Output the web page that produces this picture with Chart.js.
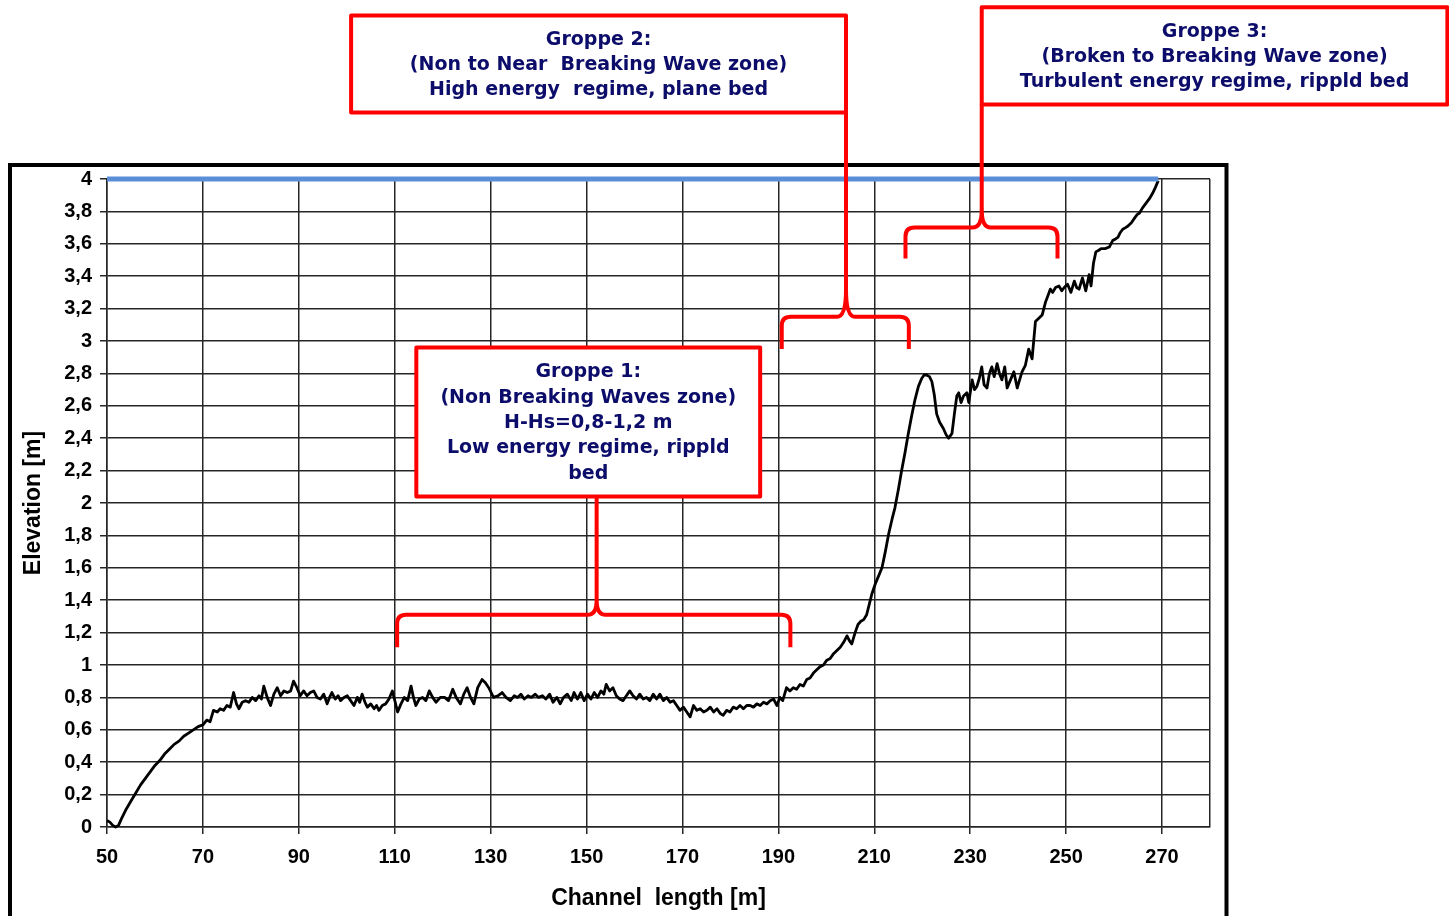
<!DOCTYPE html>
<html>
<head>
<meta charset="utf-8">
<title>Channel profile</title>
<script src="https://cdn.jsdelivr.net/npm/chart.js@4.4.1/dist/chart.umd.min.js"></script>
<style>
  html, body { margin: 0; padding: 0; background: #fff; }
  #wrap { width: 1449px; height: 916px; position: relative; }
</style>
</head>
<body>
<div id="wrap"><canvas id="profileChart"></canvas></div>
<script>
// bed profile along the channel: [channel length m, elevation m]
const rampSection = [
  [50, 0.04], [50.6, 0.03], [51.2, 0.01], [51.8, 0.0], [52.4, 0.01], [53, 0.05], [54, 0.11],
  [55, 0.16], [56, 0.21], [57, 0.26], [58, 0.30], [59, 0.34], [60, 0.38], [61, 0.41], [62, 0.45],
  [63, 0.48], [64, 0.51], [65, 0.53], [66, 0.56], [67, 0.58], [68, 0.60], [69, 0.62], [70, 0.63],
  [70.8, 0.66], [71.5, 0.65], [72.2, 0.72], [73, 0.71], [73.6, 0.73], [74.3, 0.72], [75, 0.75],
  [75.7, 0.74], [76.4, 0.83], [77, 0.76], [77.5, 0.73], [78.2, 0.77], [78.9, 0.78], [79.6, 0.77],
  [80.3, 0.80], [81, 0.78], [81.7, 0.81], [82.2, 0.79], [82.7, 0.87], [83.4, 0.80], [84.1, 0.75],
  [84.8, 0.82], [85.5, 0.86], [86.2, 0.81], [86.9, 0.84], [87.6, 0.83], [88.3, 0.84], [88.9, 0.90],
  [89.6, 0.86]
];
const plateauSection = [
  [90.3, 0.81], [91, 0.84], [91.7, 0.81], [92.4, 0.83], [93.1, 0.84], [93.8, 0.80], [94.5, 0.79],
  [95.2, 0.82], [95.9, 0.76], [96.4, 0.80], [96.9, 0.83], [97.6, 0.79], [98.2, 0.81], [98.7, 0.78],
  [99.4, 0.80], [100.1, 0.81], [100.8, 0.78], [101.5, 0.75], [102.2, 0.80], [102.7, 0.77], [103.2, 0.82],
  [103.8, 0.77], [104.3, 0.74], [105, 0.76], [105.7, 0.73], [106.2, 0.75], [106.7, 0.72], [107.4, 0.75],
  [108.1, 0.76], [108.8, 0.79], [109.5, 0.84], [110.1, 0.77], [110.6, 0.71], [111.3, 0.76], [112, 0.80],
  [112.7, 0.78], [113.4, 0.87], [113.9, 0.80], [114.4, 0.75], [115.1, 0.79], [115.8, 0.80], [116.5, 0.78],
  [117.2, 0.84], [117.9, 0.80], [118.6, 0.77], [119.5, 0.80], [120.4, 0.80], [121.2, 0.78], [122.1, 0.85],
  [122.8, 0.80], [123.7, 0.76], [124.4, 0.82], [125.1, 0.86], [125.8, 0.80], [126.5, 0.76], [127.3, 0.86],
  [128.2, 0.91], [128.9, 0.89], [129.6, 0.86], [130.6, 0.80], [131.5, 0.81], [132.4, 0.83], [133.2, 0.80],
  [134.1, 0.78], [134.9, 0.81], [135.6, 0.80], [136.3, 0.82], [137, 0.79], [137.8, 0.81], [138.5, 0.80],
  [139.3, 0.82], [140, 0.80], [140.8, 0.81], [141.5, 0.79], [142.3, 0.82], [143, 0.77], [143.8, 0.80],
  [144.5, 0.76], [145.2, 0.80], [146, 0.82], [146.8, 0.78], [147.4, 0.83], [148.1, 0.79], [148.8, 0.83],
  [149.5, 0.78], [150.2, 0.82], [150.9, 0.79], [151.6, 0.83], [152.3, 0.80], [153, 0.84], [153.6, 0.82],
  [154.1, 0.88], [154.8, 0.84], [155.5, 0.86], [156.2, 0.81], [156.9, 0.79], [157.6, 0.78], [158.3, 0.81],
  [159, 0.84], [159.7, 0.81], [160.4, 0.79], [161.1, 0.82], [161.8, 0.79], [162.5, 0.80], [163.2, 0.78],
  [163.9, 0.82], [164.6, 0.79], [165.3, 0.82], [166, 0.78], [166.7, 0.80], [167.4, 0.77], [168.1, 0.78],
  [168.8, 0.75], [169.5, 0.72], [170.2, 0.74], [170.9, 0.71], [171.6, 0.68], [172.3, 0.75], [173, 0.72],
  [173.7, 0.73], [174.4, 0.71], [175.1, 0.72], [175.8, 0.74], [176.5, 0.71], [177.2, 0.73], [177.9, 0.70],
  [178.5, 0.69], [179.2, 0.72], [179.9, 0.71], [180.6, 0.74], [181.3, 0.73], [182, 0.75], [182.7, 0.73],
  [183.4, 0.75], [184.1, 0.75], [184.8, 0.74], [185.5, 0.76], [186.2, 0.75], [186.9, 0.77], [187.6, 0.76],
  [188.3, 0.78], [189, 0.79], [189.7, 0.75]
];
const shoalSection = [
  [190.3, 0.80], [190.9, 0.78], [191.7, 0.86], [192.4, 0.84], [193.1, 0.86], [193.8, 0.85], [194.5, 0.88],
  [195.2, 0.87], [195.9, 0.91], [196.6, 0.92], [197.3, 0.95], [198, 0.97], [198.7, 0.99], [199.4, 1.00],
  [200.1, 1.03], [200.8, 1.04], [201.5, 1.07], [202.2, 1.09], [202.9, 1.11], [203.6, 1.14], [204.3, 1.18],
  [204.8, 1.15], [205.3, 1.13], [206, 1.20], [206.6, 1.25], [207.2, 1.27], [207.8, 1.28], [208.4, 1.31],
  [209, 1.38], [209.5, 1.44], [210.2, 1.50], [210.9, 1.55], [211.6, 1.60], [212.3, 1.70], [213, 1.81],
  [213.7, 1.90], [214.3, 1.97], [215, 2.08], [215.7, 2.20], [216.4, 2.31], [217.1, 2.43], [217.8, 2.54],
  [218.5, 2.64], [219.2, 2.72], [219.9, 2.77], [220.4, 2.79], [220.9, 2.79], [221.5, 2.78], [222, 2.75],
  [222.5, 2.67], [223, 2.55], [223.6, 2.50], [224.4, 2.46], [225, 2.42], [225.5, 2.40], [226.2, 2.43],
  [226.7, 2.55], [227.2, 2.66], [227.6, 2.68], [228.1, 2.62], [228.6, 2.66], [229.3, 2.68], [229.7, 2.62]
];
const beachSection = [
  [230.4, 2.76], [230.9, 2.70], [231.4, 2.72], [231.9, 2.77], [232.4, 2.84], [232.9, 2.73], [233.5, 2.71],
  [234, 2.80], [234.5, 2.84], [235, 2.78], [235.6, 2.86], [236.1, 2.80], [236.6, 2.76], [237.2, 2.84],
  [237.7, 2.71], [238.4, 2.76], [239.1, 2.81], [239.8, 2.71], [240.3, 2.76], [240.8, 2.81], [241.5, 2.85],
  [242.2, 2.95], [242.9, 2.89], [243.6, 3.12], [244.3, 3.14], [245, 3.16], [245.7, 3.24], [246.2, 3.28],
  [246.7, 3.32], [247.2, 3.30], [247.8, 3.33], [248.5, 3.34], [249.1, 3.31], [249.6, 3.33], [250.3, 3.35],
  [251, 3.30], [251.7, 3.37], [252.2, 3.33], [252.7, 3.32], [253.4, 3.39], [254.1, 3.31], [254.8, 3.41],
  [255.2, 3.34], [255.7, 3.48], [256.2, 3.55], [256.8, 3.56], [257.3, 3.57], [258.1, 3.57], [259, 3.58],
  [259.7, 3.62], [260.3, 3.63], [260.8, 3.64], [261.3, 3.67], [261.8, 3.69], [262.4, 3.70], [262.9, 3.71],
  [263.6, 3.73], [264.3, 3.76], [264.8, 3.78], [265.3, 3.79], [265.9, 3.82], [266.4, 3.84], [266.9, 3.86],
  [267.4, 3.88], [268, 3.91], [268.5, 3.94], [269.2, 3.99]
];

// still water level
const waterLevelX = [50, 269.2];
const waterLevelY = [4, 4];

// axis range and tick positions
const xRange = [50, 280];
const yRange = [0, 4];
const xTickValues = [50, 70, 90, 110, 130, 150, 170, 190, 210, 230, 250, 270, 280];

// zone notes: text, box corners and bracket in axis units
const zoneNotes = [
  {
    lines: ['Groppe 1:', '(Non Breaking Waves zone)', 'H-Hs=0,8-1,2 m', 'Low energy regime, rippld', 'bed'],
    box: { x1: 114.5, x2: 186.2, y1: 2.96, y2: 2.04 },
    bracket: { x1: 110.5, x2: 192.5, mid: 152.1, bar: 1.31, end: 1.11, peak: 1.40 }
  },
  {
    lines: ['Groppe 2:', '(Non to Near  Breaking Wave zone)', 'High energy  regime, plane bed'],
    box: { x1: 100.9, x2: 204.1, y1: 5.01, y2: 4.41 },
    bracket: { x1: 190.7, x2: 217.2, mid: 204.1, bar: 3.15, end: 2.95, peak: 3.32 }
  },
  {
    lines: ['Groppe 3:', '(Broken to Breaking Wave zone)', 'Turbulent energy regime, rippld bed'],
    box: { x1: 232.4, x2: 329.5, y1: 5.06, y2: 4.46 },
    bracket: { x1: 216.5, x2: 248.2, mid: 232.4, bar: 3.70, end: 3.51, peak: 3.81 }
  }
];

const toPoints = (pairs) => pairs.map(([x, y]) => ({ x, y }));
const profile = toPoints([...rampSection, ...plateauSection, ...shoalSection, ...beachSection]);
const waterLevel = waterLevelX.map((x, i) => ({ x, y: waterLevelY[i] }));

const gridColor = '#262626';
const noteRed = '#ff0000';
const noteText = '#0c0c6a';

// outer frame and zone annotations
const zoneNotesPlugin = {
  id: 'zoneNotes',
  beforeDraw(chart) {
    const ctx = chart.ctx;
    ctx.save();
    ctx.strokeStyle = '#000';
    ctx.lineWidth = 4;
    ctx.beginPath();
    ctx.moveTo(10, 930);
    ctx.lineTo(10, 165);
    ctx.lineTo(1226.5, 165);
    ctx.lineTo(1226.5, 930);
    ctx.stroke();
    ctx.restore();
  },
  afterDatasetsDraw(chart) {
    const ctx = chart.ctx;
    const xs = chart.scales.x;
    const ys = chart.scales.y;
    const px = (v) => xs.getPixelForValue(v);
    const py = (v) => ys.getPixelForValue(v);

    ctx.save();
    zoneNotes.forEach((note) => {
      const b = note.bracket;
      const x1 = px(b.x1), x2 = px(b.x2), xm = px(b.mid);
      const yBar = py(b.bar), yEnd = py(b.end), yPeak = py(b.peak);
      const r = 9;

      ctx.strokeStyle = noteRed;
      ctx.lineWidth = 4;
      ctx.lineJoin = 'round';
      ctx.beginPath();
      ctx.moveTo(x1, yEnd);
      ctx.lineTo(x1, yBar + r);
      ctx.quadraticCurveTo(x1, yBar, x1 + r, yBar);
      ctx.lineTo(xm - r, yBar);
      ctx.quadraticCurveTo(xm, yBar, xm, yPeak);
      ctx.quadraticCurveTo(xm, yBar, xm + r, yBar);
      ctx.lineTo(x2 - r, yBar);
      ctx.quadraticCurveTo(x2, yBar, x2, yBar + r);
      ctx.lineTo(x2, yEnd);
      ctx.stroke();

      // connector from bracket tip to its box
      const bx1 = px(note.box.x1), bx2 = px(note.box.x2);
      const by1 = py(note.box.y1), by2 = py(note.box.y2);
      ctx.beginPath();
      ctx.moveTo(xm, yPeak);
      ctx.lineTo(xm, by2);
      ctx.stroke();

      ctx.fillStyle = '#fff';
      ctx.fillRect(bx1, by1, bx2 - bx1, by2 - by1);
      ctx.strokeRect(bx1, by1, bx2 - bx1, by2 - by1);

      ctx.fillStyle = noteText;
      ctx.font = 'bold 19px "DejaVu Sans"';
      ctx.textAlign = 'center';
      ctx.textBaseline = 'middle';
      const lineH = 25.3;
      const cx = (bx1 + bx2) / 2;
      const cy = (by1 + by2) / 2;
      const top = cy - (note.lines.length - 1) * lineH / 2;
      note.lines.forEach((t, i) => ctx.fillText(t, cx, top + i * lineH + 1));
    });
    ctx.restore();
  }
};

const labelFont = { family: '"Liberation Sans", Arial, sans-serif', weight: 'bold' };

new Chart(document.getElementById('profileChart'), {
  type: 'line',
  data: {
    datasets: [
      {
        label: 'Water level',
        data: waterLevel,
        borderColor: '#5a8fd8',
        borderWidth: 5,
        pointRadius: 0,
        tension: 0,
        clip: 8
      },
      {
        label: 'Bed elevation',
        data: profile,
        borderColor: '#000',
        borderWidth: 2.8,
        pointRadius: 0,
        tension: 0,
        borderJoinStyle: 'round',
        clip: 4
      }
    ]
  },
  options: {
    responsive: true,
    maintainAspectRatio: false,
    animation: false,
    layout: { padding: { left: 0, top: 179, right: 239, bottom: 0 } },
    plugins: {
      legend: { display: false },
      tooltip: { enabled: false }
    },
    scales: {
      x: {
        type: 'linear',
        min: xRange[0],
        max: xRange[1],
        afterFit: (scale) => { scale.height = 89; },
        afterBuildTicks: (scale) => { scale.ticks = xTickValues.map((v) => ({ value: v })); },
        grid: {
          color: gridColor,
          lineWidth: 1.5,
          tickLength: 7,
          tickColor: (c) => (c.tick && c.tick.value === xRange[1] ? 'rgba(0,0,0,0)' : gridColor)
        },
        border: { color: gridColor, width: 1.5 },
        ticks: {
          color: '#000',
          padding: 11,
          maxRotation: 0,
          autoSkip: false,
          font: { ...labelFont, size: 20 },
          callback: (v) => (v === xRange[1] ? '' : String(v))
        },
        title: {
          display: true,
          text: 'Channel  length [m]',
          color: '#000',
          font: { ...labelFont, size: 23 },
          padding: { top: 0, bottom: 4 }
        }
      },
      y: {
        type: 'linear',
        min: yRange[0],
        max: yRange[1],
        afterFit: (scale) => { scale.width = 107; },
        grid: { color: gridColor, lineWidth: 1.5, tickLength: 7 },
        border: { color: gridColor, width: 1.5 },
        ticks: {
          stepSize: 0.2,
          color: '#000',
          padding: 8,
          autoSkip: false,
          font: { ...labelFont, size: 20 },
          callback: (v) => String(Math.round(v * 10) / 10).replace('.', ',')
        },
        title: {
          display: true,
          text: 'Elevation [m]',
          color: '#000',
          font: { ...labelFont, size: 23 },
          padding: { top: 20, bottom: 0 }
        }
      }
    }
  },
  plugins: [zoneNotesPlugin]
});
</script>
</body>
</html>
